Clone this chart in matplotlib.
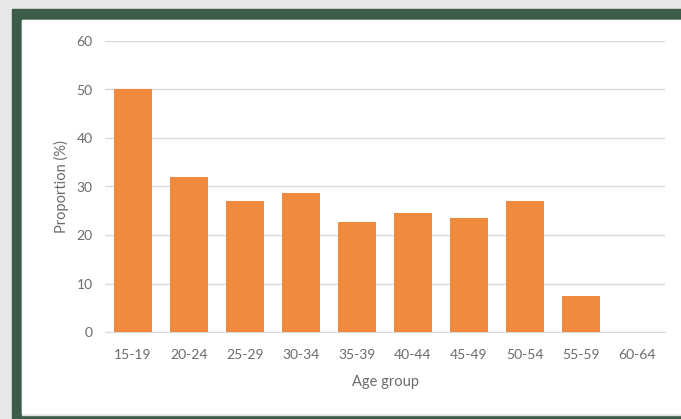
import matplotlib.pyplot as plt
from matplotlib.patches import Rectangle

# Data
age_groups = ['15-19', '20-24', '25-29', '30-34', '35-39', '40-44', '45-49', '50-54', '55-59', '60-64']
proportion = [50, 32, 27, 28.7, 22.7, 24.5, 23.5, 27, 7.5, 0]
yticks = [0, 10, 20, 30, 40, 50, 60]

W, H = 681, 419
fig = plt.figure(figsize=(W / 100, H / 100), dpi=100)
fig.patch.set_facecolor('#e7e8ea')

# green frame and white panel (pixel coords converted to figure fractions)
def px_rect(x0, y0, x1, y1, color):
    fig.patches.append(Rectangle((x0 / W, 1 - y1 / H), (x1 - x0) / W, (y1 - y0) / H,
                                 transform=fig.transFigure, color=color, zorder=-5))

px_rect(12, 9, W, H, '#3c5b48')
px_rect(22, 20, W, 415, '#e2e3e5')
px_rect(22, 20, W, 413, 'white')

ax = fig.add_axes([105 / W, 1 - 332 / H, 560 / W, (332 - 41) / H])
ax.set_zorder(2)
ax.set_facecolor('none')
ax.bar(range(len(age_groups)), proportion, width=0.68, color='#f0893b', zorder=3)

ax.set_xlim(-0.5, len(age_groups) - 0.5)
ax.set_ylim(0, 60)
ax.set_yticks(yticks)
ax.set_xticks(range(len(age_groups)))
ax.set_xticklabels(age_groups)
ax.grid(axis='y', color='#d9d9d9', linewidth=1, zorder=0)
for s in ['top', 'right', 'left']:
    ax.spines[s].set_visible(False)
ax.spines['bottom'].set_color('#d9d9d9')
ax.tick_params(length=0, colors='#6b6b6b', labelsize=10, pad=12)
ax.tick_params(axis='y', pad=9)
for lbl in ax.get_xticklabels() + ax.get_yticklabels():
    lbl.set_family('Lato')

ax.set_ylabel('Proportion (%)', fontsize=10.5, color='#6b6b6b', family='Lato', labelpad=5)
ax.set_xlabel('Age group', fontsize=10.5, color='#6b6b6b', family='Lato', labelpad=10)

fig.savefig('out.png', dpi=100, facecolor=fig.get_facecolor())
